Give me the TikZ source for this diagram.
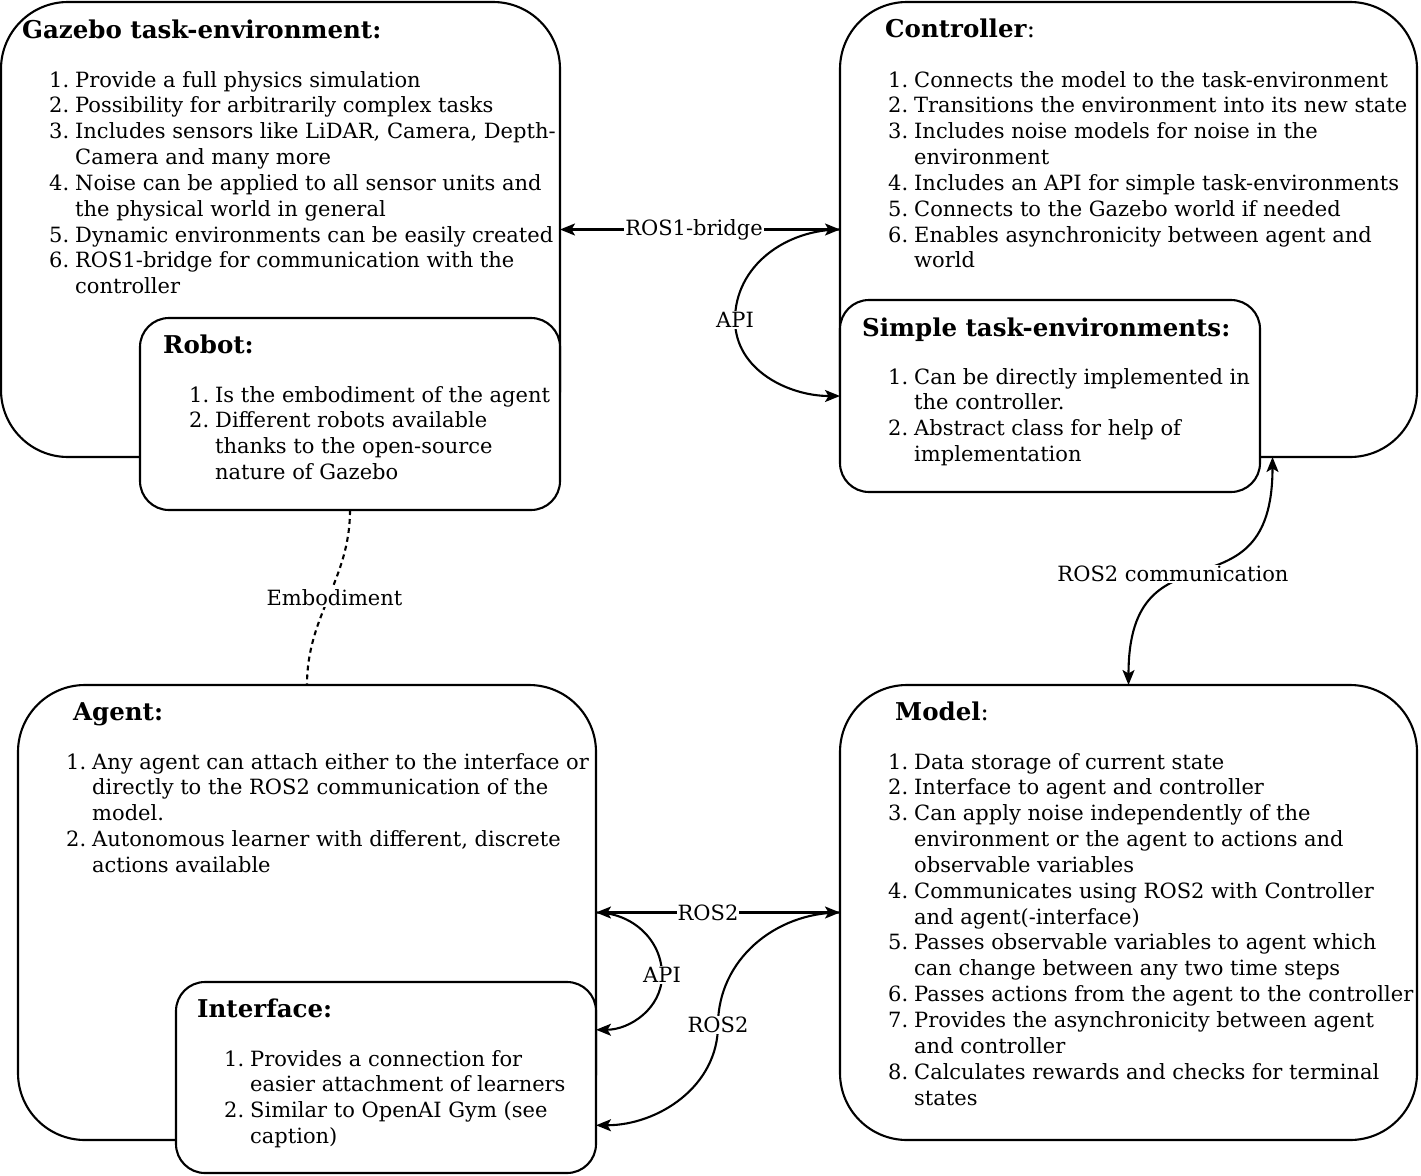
\documentclass[tikz,border=0pt]{standalone}
\usepackage{fontspec}
\setmainfont{DejaVu Serif}
\usetikzlibrary{arrows.meta,calc}
\newcommand{\itm}[2]{\makebox[26pt][l]{#1}#2}
\newcommand{\cnt}[1]{\hspace*{26pt}#1}
\newcommand{\bodyf}{\fontsize{21}{25.85}\selectfont}
\newcommand{\titlef}{\fontsize{24.5}{28}\selectfont\bfseries}
\newcommand{\lstbox}[1]{\parbox[t]{700pt}{\bodyf #1}}
\begin{document}
\begin{tikzpicture}[x=1pt,y=-1pt,
  box/.style={draw, line width=2.1pt, rounded corners=67pt, anchor=north west, inner sep=0pt, outer sep=0pt},
  inbox/.style={box, fill=white, rounded corners=29pt},
  ttl/.style={anchor=base west, inner sep=0pt, font=\titlef},
  lst/.style={anchor=base west, inner sep=0pt, font=\bodyf},
  lab/.style={fill=white, inner sep=1pt, font=\bodyf},
  con/.style={line width=2.1pt},
  onetip/.style={con, -{Stealth[length=15pt,width=12pt,inset=3.5pt]}},
  twotip/.style={con, {Stealth[length=15pt,width=12pt,inset=3.5pt]}-{Stealth[length=15pt,width=12pt,inset=3.5pt]}},
  emb/.style={con, dash pattern=on 5pt off 4pt}]
\useasboundingbox (0,0) rectangle (1421,1175);

% outer boxes
\node[box, minimum width=559pt, minimum height=455pt] (gz) at (1,2) {};
\node[box, minimum width=577pt, minimum height=455pt] (ctrl) at (840,2) {};
\node[box, minimum width=578pt, minimum height=455pt] (agent) at (18,685) {};
\node[box, minimum width=577pt, minimum height=455pt] (model) at (840,685) {};
% inner boxes
\node[inbox, minimum width=420pt, minimum height=192pt] (robot) at (140,318) {};
\node[inbox, minimum width=420pt, minimum height=192pt] (st) at (840,300) {};
\node[inbox, minimum width=420pt, minimum height=191pt] (intf) at (176,982) {};

% titles
\node[ttl] (gzt) at (22,38) {Gazebo task-environment:};
\node[ttl] (robt) at (163,353) {Robot:};
\node[ttl] (ctrlt) at (885,37) {Controller\textmd{:}};
\node[ttl] (stt) at (862,336) {Simple task-environments:};
\node[ttl] (agt) at (73,720) {Agent:};
\node[ttl] (intt) at (197,1017) {Interface:};
\node[ttl] (modt) at (895,720) {Model\textmd{:}};

% lists
\node[lst] (gzl) at (49,87) {\lstbox{%
\itm{1.}{Provide a full physics simulation}\\
\itm{2.}{Possibility for arbitrarily complex tasks}\\
\itm{3.}{Includes sensors like LiDAR, Camera, Depth-}\\
\cnt{Camera and many more}\\
\itm{4.}{Noise can be applied to all sensor units and}\\
\cnt{the physical world in general}\\
\itm{5.}{Dynamic environments can be easily created}\\
\itm{6.}{ROS1-bridge for communication with the}\\
\cnt{controller}}};

\node[lst] (robl) at (189,402) {\lstbox{%
\itm{1.}{Is the embodiment of the agent}\\
\itm{2.}{Different robots available}\\
\cnt{thanks to the open-source}\\
\cnt{nature of Gazebo}}};

\node[lst] (ctrll) at (888,87) {\lstbox{%
\itm{1.}{Connects the model to the task-environment}\\
\itm{2.}{Transitions the environment into its new state}\\
\itm{3.}{Includes noise models for noise in the}\\
\cnt{environment}\\
\itm{4.}{Includes an API for simple task-environments}\\
\itm{5.}{Connects to the Gazebo world if needed}\\
\itm{6.}{Enables asynchronicity between agent and}\\
\cnt{world}}};

\node[lst] (stl) at (888,384) {\lstbox{%
\itm{1.}{Can be directly implemented in}\\
\cnt{the controller.}\\
\itm{2.}{Abstract class for help of}\\
\cnt{implementation}}};

\node[lst] (agl) at (66,769) {\lstbox{%
\itm{1.}{Any agent can attach either to the interface or}\\
\cnt{directly to the ROS2 communication of the}\\
\cnt{model.}\\
\itm{2.}{Autonomous learner with different, discrete}\\
\cnt{actions available}}};

\node[lst] (intl) at (224,1066) {\lstbox{%
\itm{1.}{Provides a connection for}\\
\cnt{easier attachment of learners}\\
\itm{2.}{Similar to OpenAI Gym (see}\\
\cnt{caption)}}};

\node[lst] (modl) at (888,769) {\lstbox{%
\itm{1.}{Data storage of current state}\\
\itm{2.}{Interface to agent and controller}\\
\itm{3.}{Can apply noise independently of the}\\
\cnt{environment or the agent to actions and}\\
\cnt{observable variables}\\
\itm{4.}{Communicates using ROS2 with Controller}\\
\cnt{and agent(-interface)}\\
\itm{5.}{Passes observable variables to agent which}\\
\cnt{can change between any two time steps}\\
\itm{6.}{Passes actions from the agent to the controller}\\
\itm{7.}{Provides the asynchronicity between agent}\\
\cnt{and controller}\\
\itm{8.}{Calculates rewards and checks for terminal}\\
\cnt{states}}};

% connectors
\coordinate (apitop) at (735,320);
\coordinate (apibot) at (662,975);
\coordinate (rosbot) at (718,1025);
\coordinate (intfA) at ($(intf.north east)!0.25!(intf.south east)$);
\coordinate (intfB) at ($(intf.north east)!0.75!(intf.south east)$);
\coordinate (ctrlB) at ([xshift=144pt]ctrl.south);

\draw[twotip] (gz.east) -- node[lab, xshift=-6pt] (ros1) {ROS1-bridge} (ctrl.west);
\draw[onetip] (ctrl.west) to[out=180,in=90] (apitop) to[out=-90,in=180] (st.west);
\node[lab] (apil1) at (apitop) {API};

\draw[twotip] (model.north) to[out=90,in=-90,looseness=1.6] (ctrlB);
\node[lab] (ros2c) at (1173,574) {ROS2 communication};

\draw[emb] (robot.south) to[out=-90,in=90] node[lab, xshift=6pt] (embl) {Embodiment} (agent.north);

\draw[twotip] (agent.east) -- node[lab, xshift=-10pt] (ros2a) {ROS2} (model.west);
\draw[onetip] (agent.east) to[out=0,in=90] (apibot) to[out=-90,in=0] (intfA);
\node[lab] (apil2) at (apibot) {API};
\draw[onetip] (model.west) to[out=180,in=90] (rosbot) to[out=-90,in=0] (intfB);
\node[lab] (ros2b) at (rosbot) {ROS2};
\end{tikzpicture}
\end{document}
